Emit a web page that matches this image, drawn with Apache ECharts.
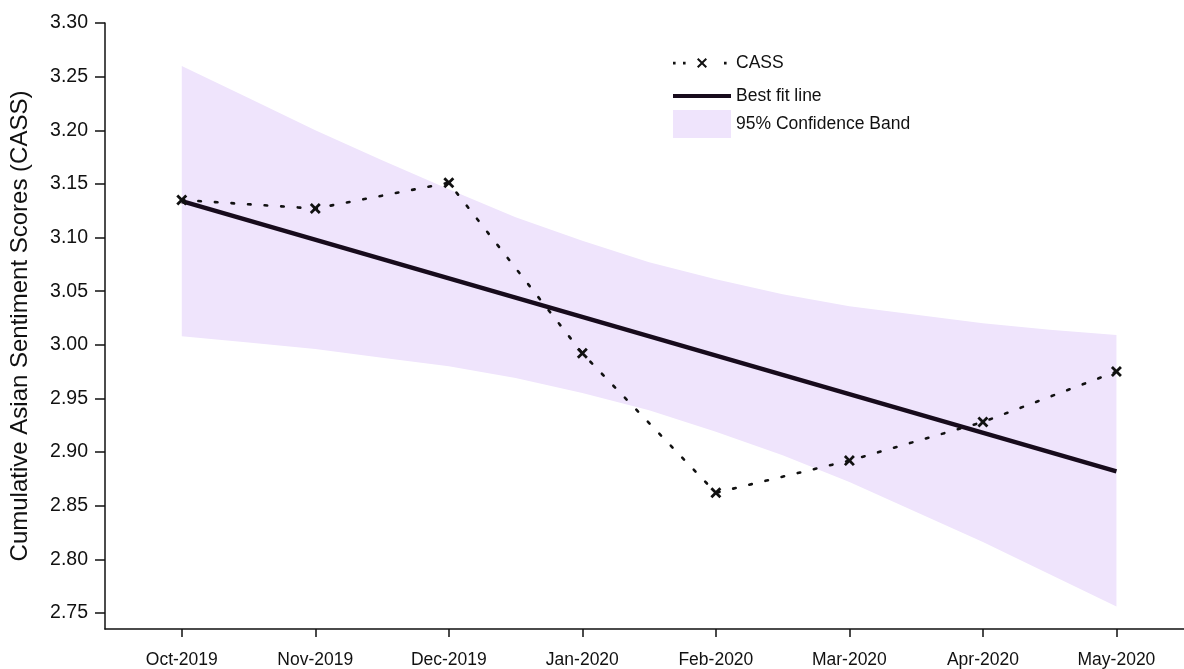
<!DOCTYPE html>
<html>
<head>
<meta charset="utf-8">
<script src="https://cdn.jsdelivr.net/npm/echarts@6/dist/echarts.min.js"></script>
<style>html,body{margin:0;padding:0;background:#fff}#c{width:1184px;height:669px}</style>
</head>
<body>
<div id="c"></div>
<script>
const categories = ['Oct-2019','Nov-2019','Dec-2019','Jan-2020','Feb-2020','Mar-2020','Apr-2020','May-2020'];
const cass = [3.135, 3.127, 3.151, 2.992, 2.862, 2.892, 2.928, 2.975];
const fitX = [0, 7];
const fitY = [3.134, 2.882];
const bandX = [0, 0.5, 1, 1.5, 2, 2.5, 3, 3.5, 4, 4.5, 5, 5.5, 6, 6.5, 7];
const bandUpper = [3.260, 3.230, 3.200, 3.172, 3.145, 3.119, 3.097, 3.077, 3.061, 3.047, 3.036, 3.028, 3.020, 3.014, 3.009];
const bandLower = [3.008, 3.002, 2.996, 2.988, 2.980, 2.969, 2.955, 2.939, 2.919, 2.897, 2.872, 2.844, 2.816, 2.786, 2.756];
const yTicks = [2.75, 2.80, 2.85, 2.90, 2.95, 3.00, 3.05, 3.10, 3.15, 3.20, 3.25, 3.30];
const xTicks = [0, 1, 2, 3, 4, 5, 6, 7];

const FONT = 'Arial, "Liberation Sans", sans-serif';
const BAND_COLOR = '#EFE4FC';
const INK = '#111';
const FIT_COLOR = '#170b1c';
const xPath = 'path://M0,1.8L1.8,0L5,3.2L8.2,0L10,1.8L6.8,5L10,8.2L8.2,10L5,6.8L1.8,10L0,8.2L3.2,5Z';
// legend icons (58 x 10 box): dotted line with a cross; solid thick line
const cassIcon = 'path://M0,3.8h2.6v2.6h-2.6zM10,3.8h2.6v2.6h-2.6zM24,1.4L25.4,0L29,3.6L32.6,0L34,1.4L30.4,5L34,8.6L32.6,10L29,6.4L25.4,10L24,8.6L27.6,5ZM51,3.8h2.6v2.6h-2.6zM55.4,0h0.1v0.1h-0.1zM55.4,9.9h0.1v0.1h-0.1zM57.9,5h0.1v0.1h-0.1z';
const fitIcon = 'path://M0,0H58V4.2H0Z';

function legendAt(top, item) {
  return {
    orient: 'vertical', left: 668, top: top,
    itemWidth: 58, itemHeight: 28, itemGap: 0,
    symbolKeepAspect: true,
    textStyle: { fontFamily: FONT, fontSize: 17.5, color: INK },
    data: [item]
  };
}

const chart = echarts.init(document.getElementById('c'));
chart.setOption({
  animation: false,
  backgroundColor: '#fff',
  grid: { left: 102, right: 0, top: 23, bottom: 37, containLabel: false },
  legend: [
    legendAt(49, { name: 'CASS', icon: cassIcon, itemStyle: { color: INK } }),
    legendAt(82, { name: 'Best fit line', icon: fitIcon, itemStyle: { color: FIT_COLOR } }),
    legendAt(105, { name: '95% Confidence Band', icon: 'rect', itemStyle: { color: BAND_COLOR } })
  ],
  xAxis: {
    type: 'value', min: -0.575, max: 7.506,
    axisLine: { show: true, onZero: false, lineStyle: { color: INK, width: 1.5 } },
    axisTick: { show: true, length: 8, lineStyle: { color: INK, width: 1.5 }, customValues: xTicks },
    axisLabel: {
      customValues: xTicks, margin: 22,
      fontFamily: FONT, fontSize: 17.5, color: INK,
      formatter: v => categories[Math.round(v)] || ''
    },
    splitLine: { show: false }
  },
  yAxis: {
    type: 'value', min: 2.735, max: 3.30,
    name: 'Cumulative Asian Sentiment Scores (CASS)',
    nameLocation: 'middle', nameRotate: 90, nameGap: 73,
    nameTextStyle: { fontFamily: FONT, fontSize: 24, color: INK },
    axisLine: { show: true, onZero: false, lineStyle: { color: INK, width: 1.5 } },
    axisTick: { show: true, length: 10, lineStyle: { color: INK, width: 1.5 }, customValues: yTicks },
    axisLabel: {
      customValues: yTicks, margin: 17,
      fontFamily: FONT, fontSize: 19.5, color: INK,
      formatter: v => v.toFixed(2)
    },
    splitLine: { show: false }
  },
  series: [
    {
      name: '95% Confidence Band',
      type: 'custom',
      z: 1,
      itemStyle: { color: BAND_COLOR },
      data: bandX.map((x, i) => [x, bandUpper[i], bandLower[i]]),
      encode: { x: 0, y: [1, 2] },
      renderItem: function (params, api) {
        if (params.dataIndex !== 0) return null;
        const pts = [];
        for (let i = 0; i < bandX.length; i++) pts.push(api.coord([bandX[i], bandUpper[i]]));
        for (let i = bandX.length - 1; i >= 0; i--) pts.push(api.coord([bandX[i], bandLower[i]]));
        return { type: 'polygon', shape: { points: pts }, style: { fill: BAND_COLOR } };
      }
    },
    {
      name: 'Best fit line',
      type: 'line', z: 3,
      symbol: 'none',
      data: fitX.map((x, i) => [x, fitY[i]]),
      lineStyle: { color: FIT_COLOR, width: 4.5 },
      itemStyle: { color: FIT_COLOR }
    },
    {
      name: 'CASS',
      type: 'line', z: 4,
      symbol: xPath, symbolSize: 11,
      data: cass.map((v, i) => [i, v]),
      lineStyle: { color: INK, width: 2.6, type: [2.6, 14], cap: 'round' },
      itemStyle: { color: INK }
    }
  ]
});
</script>
</body>
</html>
